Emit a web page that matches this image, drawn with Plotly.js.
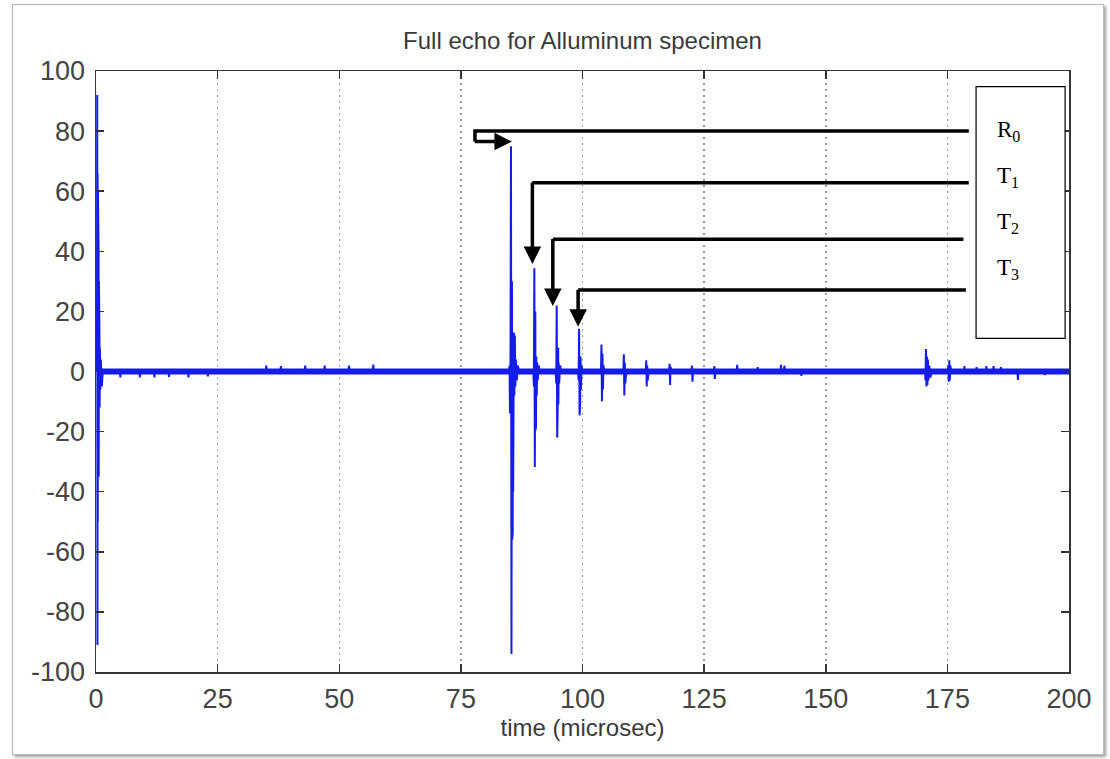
<!DOCTYPE html>
<html>
<head>
<meta charset="utf-8">
<script src="https://cdn.plot.ly/plotly-3.0.1.min.js"></script>
<style>
  html, body { margin: 0; padding: 0; background: #ffffff; }
  #wrap { position: relative; width: 1110px; height: 759px; overflow: hidden; }
  #chart { position: absolute; left: 0; top: 0; width: 1110px; height: 759px; }
  #frame { position: absolute; left: 12px; top: 4px; width: 1090px; height: 749px;
           border: 1px solid #b8b8b8; box-shadow: 2px 2px 3px #a0a0a0; pointer-events: none; }
</style>
</head>
<body>
<div id="wrap">
  <div id="chart"></div>
  <div id="frame"></div>
</div>
<script>
// ---------- data ----------
// baseline noise floor (drawn as a thick band)
const noiseTime = [0.8, 200];
const noiseAmp  = [0, 0];

// transmitted pulse at t = 0
const pulseTime = [0.20, 0.25, 0.30, 0.33, 0.36, 0.40, 0.43, 0.46, 0.50, 0.53, 0.56, 0.60, 0.65, 0.70, 0.75, 0.80, 0.90, 1.00, 1.20, 1.40];
const pulseAmp  = [0, 92, -91, 66, -50, 60, -46, 55, -42, 40, -35, 30, -22, 15, -12, 8, -6, 4, -5, 0];

// small noise bumps along the baseline
const bumpTime = [4.9, 5.0, 5.1, 8.9, 9.0, 9.1, 11.9, 12.0, 12.1, 14.9, 15.0, 15.1, 18.9, 19.0, 19.1, 22.9, 23.0, 23.1,
                  34.9, 35.0, 35.1, 37.9, 38.0, 38.1, 42.9, 43.0, 43.1, 46.9, 47.0, 47.1, 51.9, 52.0, 52.1, 56.9, 57.0, 57.1];
const bumpAmp  = [0, -2, 0, 0, -2, 0, 0, -2, 0, 0, -1.8, 0, 0, -2, 0, 0, -1.6, 0,
                  0, 2, 0, 0, 1.8, 0, 0, 2, 0, 0, 2, 0, 0, 2, 0, 0, 2.3, 0];

// front-face reflection R0
const r0Time = [84.9, 85.0, 85.1, 85.2, 85.3, 85.4, 85.5, 85.55, 85.6, 85.65, 85.7, 85.75, 85.8, 85.9, 86.0, 86.1, 86.2, 86.3, 86.5, 86.7, 87.0];
const r0Amp  = [0, 2, -14, 5, 75, -94, 30, -56, 20, -54, 10, -40, -20, 13, -8, 12, -5, 4, -3, 2, 0];

// back-wall echoes T1, T2, T3
const t1Time = [89.9, 90.0, 90.1, 90.2, 90.3, 90.35, 90.4, 90.45, 90.5, 90.6, 90.7, 90.8, 91.0, 91.2];
const t1Amp  = [0, -5, 34.4, -31.8, 20, -19.6, 8, -18, 5, -8, 3, -3, 2, 0];
const t2Time = [94.5, 94.6, 94.7, 94.8, 94.85, 94.9, 95.0, 95.05, 95.1, 95.2, 95.4, 95.6];
const t2Amp  = [0, -4, 22, -22, 16, -12, 8, -11, 3, -4, 2, 0];
const t3Time = [99.1, 99.2, 99.3, 99.4, 99.45, 99.5, 99.6, 99.7, 99.8, 100.0];
const t3Amp  = [0, -3, 14.2, -14.6, 10, -12, 5, -6, 2, 0];

// later, decaying echoes
const tailTime = [103.8, 103.9, 104.0, 104.1, 104.2, 104.3, 104.5,
                  108.4, 108.5, 108.6, 108.7, 108.8, 109.0,
                  113.0, 113.1, 113.2, 113.3, 113.4, 113.6,
                  117.8, 117.9, 118.0, 118.1, 118.3,
                  122.4, 122.5, 122.6, 122.7,
                  127.0, 127.1, 127.2, 127.3,
                  131.7, 131.8, 131.9, 135.9, 136.0, 136.1, 140.7, 140.8, 140.9, 141.4, 141.5, 141.6, 144.9, 145.0, 145.1];
const tailAmp  = [0, 9, -9.9, 6, -6, 2, 0,
                  0, 5.7, -8, 3, -4, 0,
                  0, 3.7, -5, 2, -3, 0,
                  0, 2.6, -4.5, 1.5, 0,
                  0, 2, -3.4, 0,
                  0, 1.8, -2.5, 0,
                  0, 2.2, 0, 0, 1.5, 0, 0, 2.2, 0, 0, 2, 0, 0, -1.5, 0];

// late bursts near 170-176 microsec
const lateTime = [170.4, 170.5, 170.6, 170.7, 170.8, 170.9, 171.0, 171.1, 171.3, 171.5, 171.8,
                  175.1, 175.2, 175.3, 175.4, 175.5, 175.6, 175.8,
                  178.4, 178.5, 178.6, 180.9, 181.0, 181.1, 182.9, 183.0, 183.1, 184.4, 184.5, 184.6,
                  185.9, 186.0, 186.1, 189.4, 189.5, 189.6, 194.9, 195.0, 195.1];
const lateAmp  = [0, -3, 7.5, -5, 5, -4.5, 4, -3, 2, -2, 0,
                  0, 2, -3.4, 3.7, -3, 2, 0,
                  0, 1.8, 0, 0, 1.5, 0, 0, 1.8, 0, 0, 1.8, 0,
                  0, 1.5, 0, 0, -2.8, 0, 0, -1.2, 0];

// axis ticks
const xTicks = [0, 25, 50, 75, 100, 125, 150, 175, 200];
const yTicks = [-100, -80, -60, -40, -20, 0, 20, 40, 60, 80, 100];

// echo labels in the key box
const keyLabels = ['R<sub>0</sub>', 'T<sub>1</sub>', 'T<sub>2</sub>', 'T<sub>3</sub>'];

// ---------- styling & geometry ----------
const blue = 'rgb(20,28,232)';
const segs = [
  [pulseTime, pulseAmp], [bumpTime, bumpAmp], [r0Time, r0Amp], [t1Time, t1Amp],
  [t2Time, t2Amp], [t3Time, t3Amp], [tailTime, tailAmp], [lateTime, lateAmp]
];
const traces = [{
  x: noiseTime, y: noiseAmp, type: 'scatter', mode: 'lines',
  line: { color: blue, width: 6 }, hoverinfo: 'skip', showlegend: false
}];
segs.forEach(s => traces.push({
  x: s[0], y: s[1], type: 'scatter', mode: 'lines',
  line: { color: blue, width: 2 }, showlegend: false
}));

// annotation geometry (data coordinates)
const r0Geo = { left: 77.9, y: 80.0, right: 179.4, lowY: 76.5, tipX: 85.5 };
const tGeo = [
  { x: 89.7, y: 62.8, right: 179.4, tipY: 35.8 },
  { x: 93.9, y: 44.0, right: 178.3, tipY: 21.8 },
  { x: 99.1, y: 27.1, right: 178.8, tipY: 14.9 }
];
const labelY = [80.0, 64.7, 49.4, 34.1];

const shapes = [
  { type: 'rect', xref: 'x', yref: 'y', x0: 180.9, x1: 199.2, y0: 11.05, y1: 94.8,
    line: { color: '#000', width: 1.2 }, fillcolor: '#fff', layer: 'above' },
  { type: 'path', xref: 'x', yref: 'y',
    path: `M ${r0Geo.right},${r0Geo.y} L ${r0Geo.left},${r0Geo.y} L ${r0Geo.left},${r0Geo.lowY}`,
    line: { color: '#000', width: 3.5 }, layer: 'above' }
];
tGeo.forEach(g => shapes.push({
  type: 'path', xref: 'x', yref: 'y',
  path: `M ${g.right},${g.y} L ${g.x},${g.y}`,
  line: { color: '#000', width: 3.5 }, layer: 'above'
}));

const arrowBase = { showarrow: true, text: '', arrowhead: 2, arrowsize: 1.0, arrowwidth: 3.5,
                    arrowcolor: '#000', xref: 'x', yref: 'y', axref: 'x', ayref: 'y' };
const annotations = [
  Object.assign({}, arrowBase, { x: r0Geo.tipX, y: r0Geo.lowY, ax: r0Geo.left - 0.35, ay: r0Geo.lowY })
];
tGeo.forEach(g => annotations.push(Object.assign({}, arrowBase, { x: g.x, y: g.tipY, ax: g.x, ay: g.y + 0.6 })));
keyLabels.forEach((t, i) => annotations.push({
  x: 184.8, y: labelY[i], xref: 'x', yref: 'y', text: t, showarrow: false,
  xanchor: 'left', yanchor: 'middle',
  font: { family: 'Liberation Serif, Times New Roman, serif', size: 23, color: '#000' }
}));

const tickFont = { family: 'Liberation Sans, Arial, sans-serif', size: 27, color: '#444' };

const layout = {
  width: 1110, height: 759,
  margin: { l: 96, r: 41, t: 71, b: 87 },
  paper_bgcolor: '#ffffff', plot_bgcolor: '#ffffff',
  title: { text: 'Full echo for Alluminum specimen', x: 0.5, xref: 'paper',
           y: 1 - 41 / 759, yref: 'container', yanchor: 'middle',
           font: { family: 'Liberation Sans, Arial, sans-serif', size: 24, color: '#3a3a3a' } },
  xaxis: {
    range: [0, 200], tickvals: xTicks, ticktext: xTicks.map(String),
    ticks: 'inside', ticklen: 8, tickwidth: 1.5, tickcolor: '#333',
    showline: true, linecolor: '#333', linewidth: 1.5, mirror: 'ticks',
    showgrid: true, gridcolor: '#9a9a9a', gridwidth: 1.5, griddash: '2px,4px',
    zeroline: false, tickfont: tickFont, ticklabelstandoff: 2,
    title: { text: 'time (microsec)', standoff: 4,
             font: { family: 'Liberation Sans, Arial, sans-serif', size: 24, color: '#3a3a3a' } }
  },
  yaxis: {
    range: [-100, 100], tickvals: yTicks, ticktext: yTicks.map(String),
    ticks: 'inside', ticklen: 8, tickwidth: 1.5, tickcolor: '#333',
    showline: true, linecolor: '#333', linewidth: 1.5, mirror: 'ticks',
    showgrid: false, zeroline: false, tickfont: tickFont, ticklabelstandoff: 4
  },
  shapes: shapes,
  annotations: annotations,
  showlegend: false
};

Plotly.newPlot('chart', traces, layout, { staticPlot: true, displayModeBar: false });
</script>
</body>
</html>
